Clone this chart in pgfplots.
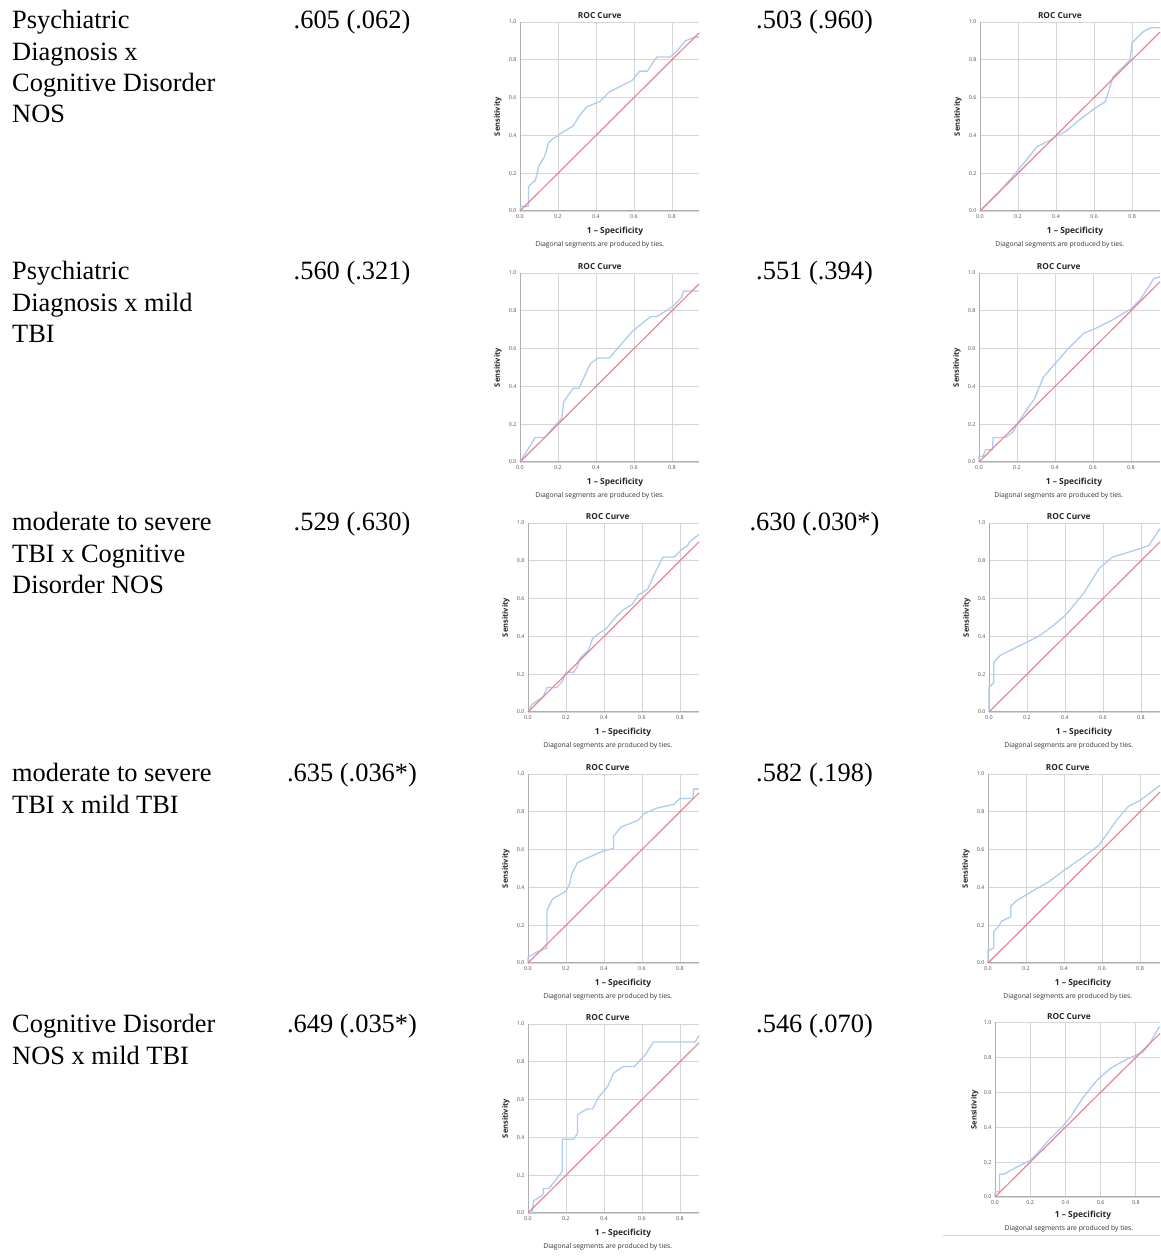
\documentclass[border=0pt]{standalone}
\usepackage{fontspec}
\usepackage{pgfplots}
\pgfplotsset{compat=1.18}
\setmainfont{Liberation Serif}
\newfontfamily\plotfont{Open Sans}
\definecolor{roccurve}{RGB}{172,204,242}
\definecolor{rocdiag}{RGB}{234,132,152}
\definecolor{gridgray}{RGB}{214,214,214}
\definecolor{axisgray}{RGB}{175,175,175}
\definecolor{ticktext}{RGB}{85,85,85}
\pgfplotsset{
  roc/.style={
    scale only axis, anchor=south west, clip=false,
    xmin=0, ymin=0, ymax=1,
    axis x line*=bottom, axis y line*=left,
    axis line style={-, draw=axisgray, line width=1pt},
    xtick={0,0.2,0.4,0.6,0.8}, ytick={0,0.2,0.4,0.6,0.8,1},
    grid=major, major grid style={draw=gridgray, line width=0.9pt},
    major tick length=0pt,
    tick label style={font=\plotfont\fontsize{5.4}{6}\selectfont, text=ticktext},
    /pgf/number format/.cd, fixed, fixed zerofill, precision=1, assume math mode=true,
  },
  rc/.style={draw=roccurve, line width=1.3pt, no marks, line join=round},
  rd/.style={draw=rocdiag, line width=1.2pt, no marks},
}
\newcommand{\rocdeco}{%
  \node[font=\plotfont\bfseries\fontsize{8.3}{9}\selectfont, text=black!85] at (axis cs:0.42,1.034) {ROC Curve};
  \node[font=\plotfont\bfseries\fontsize{8.4}{9}\selectfont, text=black!85] at (axis cs:0.5,-0.106) {1 – Specificity};
  \node[font=\plotfont\fontsize{6.8}{7}\selectfont, text=black!80] at (axis cs:0.42,-0.18) {Diagonal segments are produced by ties.};
  \node[rotate=90, font=\plotfont\bfseries\fontsize{7.5}{8}\selectfont, text=black!85] at (axis cs:-0.116,0.5) {Sensitivity};
}
\newcommand{\rowtext}[2]{\node[anchor=base west, inner sep=0pt, font=\fontsize{26.4}{31}\selectfont] at (12pt,{1256pt-#1pt}) {#2};}
\newcommand{\numtext}[3]{\node[anchor=base, inner sep=0pt, font=\fontsize{26.4}{31}\selectfont] at (#1pt,{1256pt-#2pt}) {#3};}
\begin{document}
\begin{tikzpicture}
\path[use as bounding box] (0,0) rectangle (1160pt,1256pt);
% ---------- text ----------
\rowtext{29}{Psychiatric}
\rowtext{60.3}{Diagnosis x}
\rowtext{91.6}{Cognitive Disorder}
\rowtext{123}{NOS}
\numtext{352}{29}{.605 (.062)}
\numtext{814.5}{29}{.503 (.960)}
\rowtext{280}{Psychiatric}
\rowtext{311.3}{Diagnosis x mild}
\rowtext{342.6}{TBI}
\numtext{352}{280}{.560 (.321)}
\numtext{814.5}{280}{.551 (.394)}
\rowtext{531}{moderate to severe}
\rowtext{562.3}{TBI x Cognitive}
\rowtext{593.6}{Disorder NOS}
\numtext{352}{531}{.529 (.630)}
\numtext{814.5}{531}{.630 (.030*)}
\rowtext{782}{moderate to severe}
\rowtext{813.3}{TBI x mild TBI}
\numtext{352}{782}{.635 (.036*)}
\numtext{814.5}{782}{.582 (.198)}
\rowtext{1033}{Cognitive Disorder}
\rowtext{1064.3}{NOS x mild TBI}
\numtext{352}{1033}{.649 (.035*)}
\numtext{814.5}{1033}{.546 (.070)}
% ---------- P1 ----------
\begin{axis}[roc, at={(520pt,{1256pt-211pt})}, width=179pt, height=189pt, xmax=0.942]
\addplot[rc] coordinates {(0,0) (0.005,0.025) (0.045,0.025) (0.045,0.13) (0.065,0.15) (0.08,0.16) (0.1,0.24) (0.13,0.29) (0.15,0.36) (0.17,0.38) (0.2,0.4) (0.23,0.42) (0.28,0.45) (0.31,0.5) (0.35,0.55) (0.42,0.58) (0.47,0.63) (0.53,0.66) (0.59,0.69) (0.63,0.74) (0.67,0.74) (0.72,0.815) (0.79,0.815) (0.82,0.84) (0.87,0.9) (0.92,0.92) (0.942,0.92)};
\addplot[rd] coordinates {(0,0) (0.942,0.942)};
\rocdeco
\end{axis}
% ---------- P2 ----------
\begin{axis}[roc, at={(980pt,{1256pt-211pt})}, width=180pt, height=189pt, xmax=0.947]
\addplot[rc] coordinates {(0,0) (0.1,0.1) (0.2,0.215) (0.3,0.34) (0.38,0.38) (0.4,0.395) (0.45,0.42) (0.52,0.48) (0.6,0.54) (0.66,0.58) (0.7,0.71) (0.72,0.73) (0.79,0.80) (0.80,0.89) (0.86,0.95) (0.9,0.97) (0.947,0.97)};
\addplot[rd] coordinates {(0,0) (0.947,0.947)};
\rocdeco
\end{axis}
% ---------- P3 ----------
\begin{axis}[roc, at={(520pt,{1256pt-462pt})}, width=179pt, height=189pt, xmax=0.942]
\addplot[rc] coordinates {(0,0) (0.08,0.13) (0.13,0.13) (0.2,0.21) (0.22,0.23) (0.23,0.32) (0.28,0.39) (0.31,0.39) (0.37,0.52) (0.41,0.55) (0.47,0.55) (0.53,0.62) (0.59,0.69) (0.65,0.74) (0.69,0.77) (0.72,0.77) (0.77,0.8) (0.8,0.82) (0.85,0.87) (0.86,0.905) (0.942,0.905)};
\addplot[rd] coordinates {(0,0) (0.942,0.942)};
\rocdeco
\end{axis}
% ---------- P4 ----------
\begin{axis}[roc, at={(979pt,{1256pt-462pt})}, width=181pt, height=189pt, xmax=0.953]
\addplot[rc] coordinates {(0,0) (0,0.03) (0.02,0.03) (0.035,0.065) (0.07,0.065) (0.075,0.13) (0.14,0.13) (0.18,0.16) (0.2,0.2) (0.26,0.29) (0.29,0.33) (0.34,0.45) (0.4,0.52) (0.47,0.6) (0.55,0.68) (0.62,0.71) (0.7,0.75) (0.8,0.81) (0.85,0.86) (0.92,0.97) (0.953,0.98)};
\addplot[rd] coordinates {(0,0) (0.953,0.953)};
\rocdeco
\end{axis}
% ---------- P5 ----------
\begin{axis}[roc, at={(528pt,{1256pt-712pt})}, width=171pt, height=189pt, xmax=0.9]
\addplot[rc] coordinates {(0,0) (0.02,0.04) (0.05,0.06) (0.08,0.08) (0.1,0.13) (0.15,0.13) (0.18,0.16) (0.2,0.21) (0.24,0.21) (0.26,0.24) (0.27,0.28) (0.32,0.33) (0.34,0.39) (0.38,0.42) (0.41,0.44) (0.46,0.5) (0.5,0.54) (0.55,0.57) (0.58,0.62) (0.6,0.63) (0.63,0.65) (0.67,0.74) (0.71,0.82) (0.77,0.82) (0.81,0.86) (0.84,0.88) (0.85,0.9) (0.9,0.94)};
\addplot[rd] coordinates {(0,0) (0.9,0.9)};
\rocdeco
\end{axis}
% ---------- P6 ----------
\begin{axis}[roc, at={(989pt,{1256pt-712pt})}, width=171pt, height=189pt, xmax=0.9]
\addplot[rc] coordinates {(0,0) (0,0.13) (0.02,0.15) (0.025,0.16) (0.025,0.26) (0.04,0.28) (0.06,0.3) (0.1,0.32) (0.2,0.37) (0.26,0.4) (0.33,0.45) (0.41,0.52) (0.45,0.57) (0.5,0.63) (0.53,0.68) (0.58,0.76) (0.65,0.82) (0.75,0.85) (0.84,0.88) (0.9,0.97)};
\addplot[rd] coordinates {(0,0) (0.9,0.9)};
\rocdeco
\end{axis}
% ---------- P7 ----------
\begin{axis}[roc, at={(528pt,{1256pt-963pt})}, width=171pt, height=189pt, xmax=0.9]
\addplot[rc] coordinates {(0,0) (0,0.03) (0.05,0.06) (0.1,0.08) (0.1,0.28) (0.13,0.34) (0.2,0.38) (0.22,0.42) (0.23,0.47) (0.26,0.53) (0.3,0.55) (0.4,0.595) (0.45,0.605) (0.45,0.67) (0.49,0.72) (0.58,0.755) (0.61,0.79) (0.68,0.82) (0.77,0.84) (0.8,0.87) (0.87,0.87) (0.87,0.92) (0.9,0.92)};
\addplot[rd] coordinates {(0,0) (0.9,0.9)};
\rocdeco
\end{axis}
% ---------- P8 ----------
\begin{axis}[roc, at={(988pt,{1256pt-963pt})}, width=172pt, height=189pt, xmax=0.905]
\addplot[rc] coordinates {(0,0) (0,0.065) (0.03,0.08) (0.03,0.165) (0.06,0.2) (0.07,0.22) (0.12,0.245) (0.12,0.3) (0.15,0.33) (0.2,0.36) (0.25,0.39) (0.32,0.43) (0.4,0.49) (0.5,0.56) (0.58,0.62) (0.61,0.66) (0.68,0.76) (0.74,0.83) (0.8,0.86) (0.905,0.94)};
\addplot[rd] coordinates {(0,0) (0.905,0.905)};
\rocdeco
\end{axis}
% ---------- P9 ----------
\begin{axis}[roc, at={(528pt,{1256pt-1213pt})}, width=171pt, height=189pt, xmax=0.9]
\addplot[rc] coordinates {(0,0) (0.02,0) (0.03,0.065) (0.07,0.09) (0.08,0.1) (0.08,0.13) (0.11,0.13) (0.15,0.18) (0.18,0.22) (0.18,0.39) (0.24,0.39) (0.26,0.42) (0.26,0.52) (0.31,0.55) (0.34,0.55) (0.37,0.61) (0.42,0.67) (0.45,0.74) (0.5,0.775) (0.56,0.775) (0.62,0.84) (0.66,0.905) (0.88,0.905) (0.9,0.94)};
\addplot[rd] coordinates {(0,0) (0.9,0.9)};
\rocdeco
\end{axis}
% ---------- P10 ----------
\begin{axis}[roc, at={(995pt,{1256pt-1197pt})}, width=165pt, height=174.5pt, xmax=0.9375]
\addplot[rc] coordinates {(0,0) (0,0.03) (0.025,0.03) (0.025,0.13) (0.05,0.13) (0.12,0.17) (0.2,0.21) (0.24,0.25) (0.3,0.32) (0.38,0.4) (0.43,0.46) (0.5,0.57) (0.58,0.67) (0.66,0.74) (0.75,0.79) (0.84,0.83) (0.88,0.88) (0.93,0.97) (0.9375,0.975)};
\addplot[rd] coordinates {(0,0) (0.9375,0.9375)};
\rocdeco
\end{axis}
\draw[draw=gridgray, line width=1pt] (943pt,{1256pt-1236pt}) -- (1160pt,{1256pt-1236pt});
\end{tikzpicture}
\end{document}
